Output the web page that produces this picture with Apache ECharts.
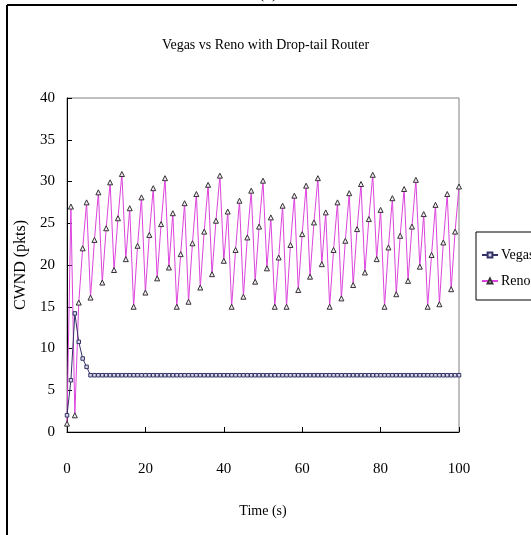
<!DOCTYPE html>
<html>
<head>
<meta charset="utf-8">
<script src="https://cdn.jsdelivr.net/npm/echarts@6/dist/echarts.min.js"></script>
<style>html,body{margin:0;padding:0;background:#fff}#c{width:531px;height:535px}</style>
</head>
<body>
<div id="c"></div>
<script>
var titleText = 'Vegas vs Reno with Drop-tail Router';
var xName = 'Time (s)';
var yName = 'CWND (pkts)';
var seriesNames = ['Vegas', 'Reno'];
var time = [0,1,2,3,4,5,6,7,8,9,10,11,12,13,14,15,16,17,18,19,20,21,22,23,24,25,26,27,28,29,30,31,32,33,34,35,36,37,38,39,40,41,42,43,44,45,46,47,48,49,50,51,52,53,54,55,56,57,58,59,60,61,62,63,64,65,66,67,68,69,70,71,72,73,74,75,76,77,78,79,80,81,82,83,84,85,86,87,88,89,90,91,92,93,94,95,96,97,98,99,100];
var vegas = [2.0,6.2,14.2,10.8,8.8,7.8,6.8,
  6.8,6.8,6.8,6.8,6.8,6.8,6.8,6.8,6.8,6.8,
  6.8,6.8,6.8,6.8,6.8,6.8,6.8,6.8,6.8,6.8,
  6.8,6.8,6.8,6.8,6.8,6.8,6.8,6.8,6.8,6.8,
  6.8,6.8,6.8,6.8,6.8,6.8,6.8,6.8,6.8,6.8,
  6.8,6.8,6.8,6.8,6.8,6.8,6.8,6.8,6.8,6.8,
  6.8,6.8,6.8,6.8,6.8,6.8,6.8,6.8,6.8,6.8,
  6.8,6.8,6.8,6.8,6.8,6.8,6.8,6.8,6.8,6.8,
  6.8,6.8,6.8,6.8,6.8,6.8,6.8,6.8,6.8,6.8,
  6.8,6.8,6.8,6.8,6.8,6.8,6.8,6.8,6.8,6.8,
  6.8,6.8,6.8,6.8];
var reno = [1.0,27,2,15.5,22,27.5,16.1,23,28.7,17.9,24.4,29.9,19.4,25.6,30.9,20.7,26.8,15,22.3,28.1,
  16.7,23.6,29.2,18.4,24.9,30.4,19.7,26.2,15,21.3,27.4,15.6,22.6,28.5,17.3,24,29.6,18.9,25.3,30.7,
  20.5,26.4,15,21.8,27.7,16.2,23.3,28.9,18,24.6,30.1,19.6,25.7,15,20.9,27.1,15,22.4,28.3,17,
  23.7,29.5,18.6,25.1,30.4,20.1,26.3,15,21.8,27.5,16,22.9,28.6,17.6,24.3,29.7,19.1,25.5,30.8,20.7,
  26.6,15,22.1,28,16.5,23.5,29.1,18.1,24.6,30.2,19.8,26.1,15,21.2,27.2,15.3,22.7,28.5,17.1,24,29.4];

function pairs(xs, ys){ return xs.map(function(x,i){ return [x, ys[i]]; }); }

var FONT = '"Liberation Serif", "Times New Roman", serif';
var chart = echarts.init(document.getElementById('c'), null, {renderer:'canvas'});
chart.setOption({
  backgroundColor: '#ffffff',
  animation: false,
  title: {
    text: titleText, left: 'center', top: 33,
    textStyle: {fontFamily: FONT, fontSize: 14, fontWeight: 'normal', color: '#000'}
  },
  legend: {
    data: seriesNames, orient: 'vertical', left: 476, top: 232,
    itemWidth: 16, itemHeight: 6, itemGap: 12,
    padding: [16, 12, 12, 5],
    borderColor: '#000', borderWidth: 1, backgroundColor: '#fff',
    textStyle: {fontFamily: FONT, fontSize: 14, color: '#000', padding: [0,0,0,-2]}
  },
  grid: {left: 67, top: 98, width: 392, height: 334, show: true, borderColor: '#808080', borderWidth: 1, backgroundColor: 'transparent'},
  xAxis: {
    type: 'value', min: 0, max: 100, interval: 20,
    name: xName, nameLocation: 'middle', nameGap: 72,
    nameTextStyle: {fontFamily: FONT, fontSize: 14, color: '#000'},
    axisLine: {lineStyle: {color: '#000', width: 1}},
    axisTick: {inside: true, length: 5, lineStyle: {color: '#000'}},
    axisLabel: {margin: 30, fontFamily: FONT, fontSize: 15, color: '#000'},
    splitLine: {show: false}
  },
  yAxis: {
    type: 'value', min: 0, max: 40, interval: 5,
    name: yName, nameLocation: 'middle', nameGap: 34,
    nameTextStyle: {fontFamily: FONT, fontSize: 16, color: '#000'},
    axisLine: {show: true, lineStyle: {color: '#000', width: 1}},
    axisTick: {show: true, inside: true, length: 5, lineStyle: {color: '#000'}},
    axisLabel: {margin: 12, fontFamily: FONT, fontSize: 15, color: '#000'},
    splitLine: {show: false}
  },
  series: [
    {
      name: seriesNames[0], type: 'line', data: pairs(time, vegas),
      symbol: 'rect', symbolSize: 3.5, showAllSymbol: true,
      lineStyle: {color: '#333366', width: 1},
      itemStyle: {color: '#d8d8e8', borderColor: '#333366', borderWidth: 1},
      z: 3
    },
    {
      name: seriesNames[1], type: 'line', data: pairs(time, reno),
      symbol: 'triangle', symbolSize: 5, showAllSymbol: true,
      lineStyle: {color: '#dd44dd', width: 1},
      itemStyle: {color: '#f4e8f4', borderColor: '#333333', borderWidth: 1},
      z: 2
    }
  ],
  graphic: [
    {type: 'line', shape: {x1: 7, y1: 5, x2: 7, y2: 535}, style: {stroke: '#000', lineWidth: 2}, z: 100},
    {type: 'line', shape: {x1: 7, y1: 5, x2: 517, y2: 5}, style: {stroke: '#000', lineWidth: 2}, z: 100},
    {type: 'text', x: 268, y: 2, style: {text: '(b)', fontFamily: FONT, fontSize: 16, fill: '#000', align: 'center', verticalAlign: 'bottom'}}
  ]
});
</script>
</body>
</html>
